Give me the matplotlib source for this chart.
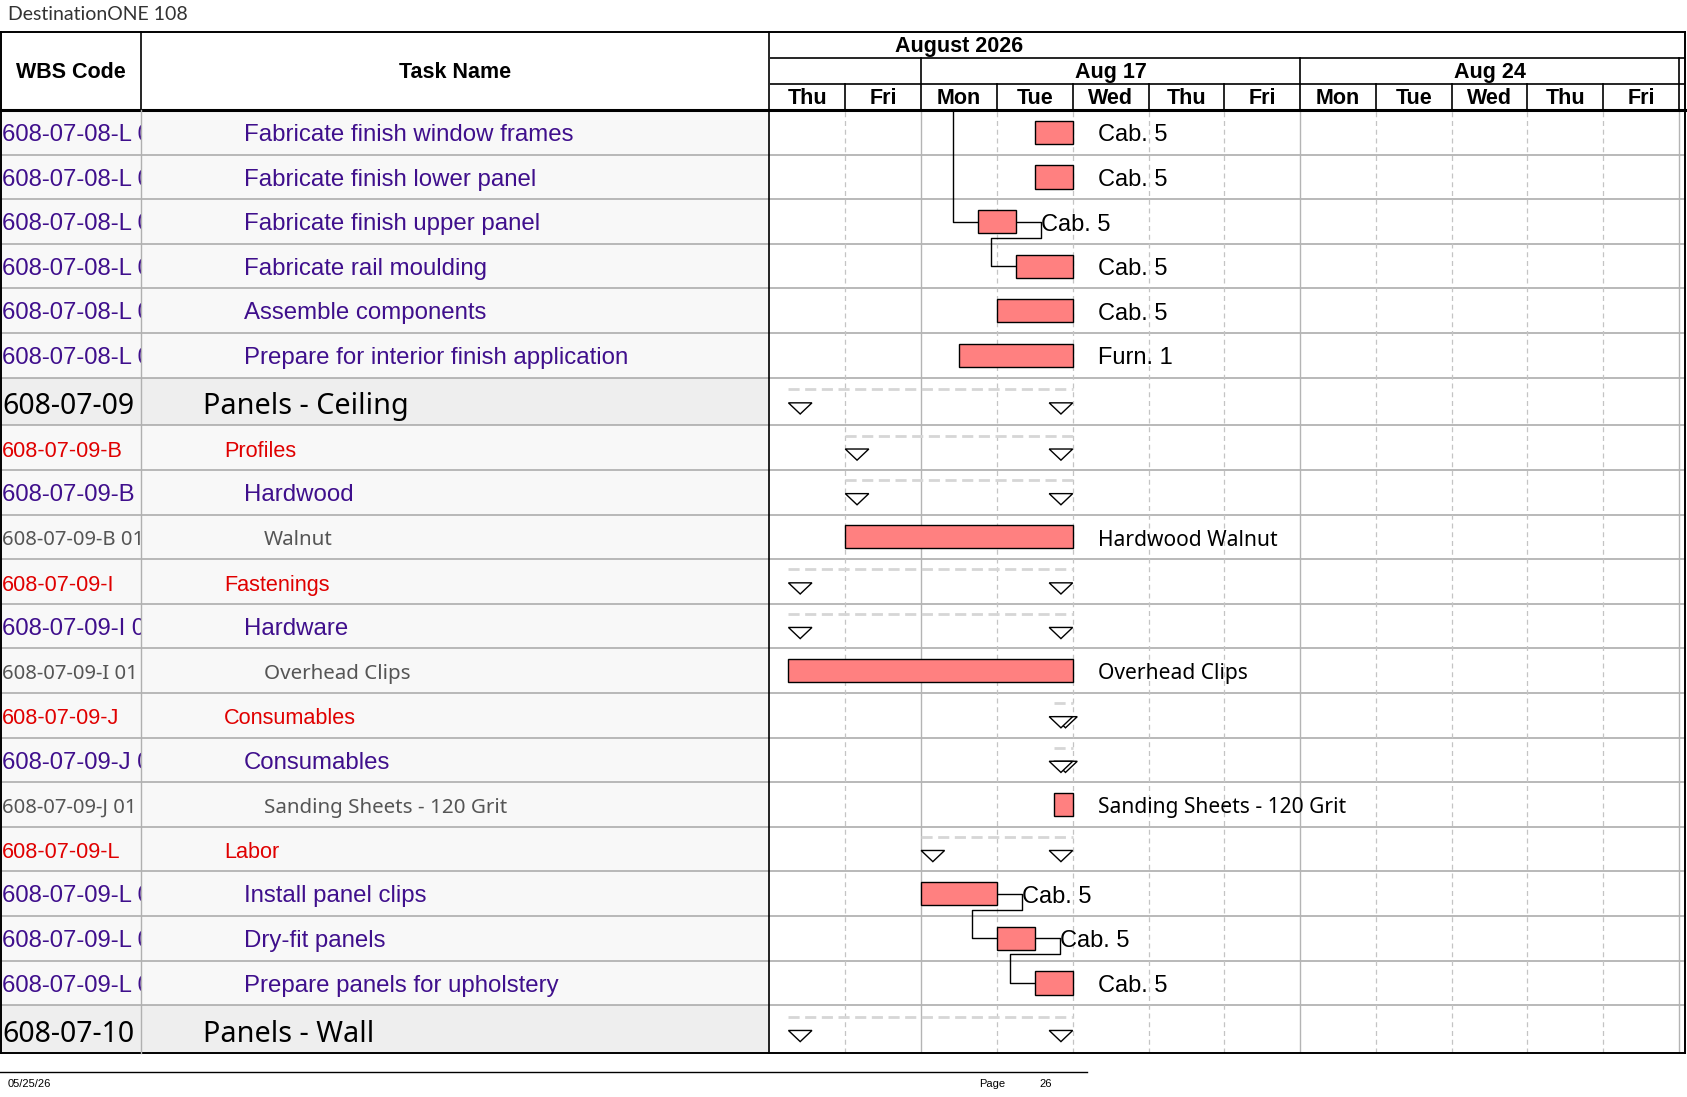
import numpy as np
import matplotlib
matplotlib.use("Agg")
import matplotlib.pyplot as plt
from matplotlib.patches import Polygon

W, H = 1687, 1097          # output size in pixels (dpi 100)

# ---- table data -------------------------------------------------------
wbs_codes = ["608-07-08-L 01", "608-07-08-L 02", "608-07-08-L 03",
             "608-07-08-L 04", "608-07-08-L 05", "608-07-08-L 06",
             "608-07-09", "608-07-09-B", "608-07-09-B 01", "608-07-09-B 01 01",
             "608-07-09-I", "608-07-09-I 01", "608-07-09-I 01 01",
             "608-07-09-J", "608-07-09-J 01", "608-07-09-J 01 01",
             "608-07-09-L", "608-07-09-L 01", "608-07-09-L 02", "608-07-09-L 03",
             "608-07-10"]
task_names = ["Fabricate finish window frames", "Fabricate finish lower panel",
              "Fabricate finish upper panel", "Fabricate rail moulding",
              "Assemble components", "Prepare for interior finish application",
              "Panels - Ceiling", "Profiles", "Hardwood", "Walnut",
              "Fastenings", "Hardware", "Overhead Clips",
              "Consumables", "Consumables", "Sanding Sheets - 120 Grit",
              "Labor", "Install panel clips", "Dry-fit panels",
              "Prepare panels for upholstery", "Panels - Wall"]
levels = [4, 4, 4, 4, 4, 4, 2, 3, 4, 5, 3, 4, 5, 3, 4, 5, 3, 4, 4, 4, 2]
is_summary = [False] * 6 + [True, True, True, False, True, True, False,
                            True, True, False, True, False, False, False, True]
# start / finish in working days from Thu Aug 13 (Thu=0, Fri=1, Mon 17=2 ...)
starts = [3.5, 3.5, 2.75, 3.25, 3.0, 2.5, 0.25, 1.0, 1.0, 1.0, 0.25, 0.25, 0.25,
          3.75, 3.75, 3.75, 2.0, 2.0, 3.0, 3.5, 0.25]
finishes = [4.0, 4.0, 3.25, 4.0, 4.0, 4.0, 4.0, 4.0, 4.0, 4.0, 4.0, 4.0, 4.0,
            4.0, 4.0, 4.0, 4.0, 3.0, 3.5, 4.0, 4.0]
resources = ["Cab. 5", "Cab. 5", "Cab. 5", "Cab. 5", "Cab. 5", "Furn. 1",
             "", "", "", "Hardwood Walnut", "", "", "Overhead Clips",
             "", "", "Sanding Sheets - 120 Grit", "", "Cab. 5", "Cab. 5", "Cab. 5", ""]
# finish-to-start links (predecessor row, successor row); None = from previous page
links = [(None, 2), (2, 3), (17, 18), (18, 19)]

day_names = ["Thu", "Fri", "Mon", "Tue", "Wed", "Thu", "Fri",
             "Mon", "Tue", "Wed", "Thu", "Fri"]
week_labels = ["", "Aug 17", "Aug 24"]
week_bounds = [0, 2, 7, 12]
month_label = "August 2026"

# ---- styles -----------------------------------------------------------
ARIAL = "Liberation Sans"
SEGOE = "Noto Sans"
styles = {
    2: dict(color="black", family=SEGOE, size=20.7, wsize=20.5, indent=203, dy=0.11),
    3: dict(color="#E00000", family=ARIAL, size=15.6, wsize=15.6, indent=224, dy=0.08),
    4: dict(color="#3F0F8C", family=ARIAL, size=17.3, wsize=17.2, indent=244, dy=0.06),
    5: dict(color="#555555", family=SEGOE, size=14.8, wsize=14.6, indent=264, dy=0.07),
}
BAR = "#FF8080"
XGAP = 0.33      # link / label offset in days
TRI_W, TRI_H = 0.31, 0.25

X_WBS, X_TASK, X_G, X_END = 0, 141, 769.5, 1685
Y_TOP, Y_HEAD, Y_BOT = 32, 110, 1053

fig = plt.figure(figsize=(W / 100, H / 100), dpi=100)
fig.patch.set_facecolor("white")


def px_axes(x0, y0, x1, y1):
    ax = fig.add_axes([x0 / W, 1 - y1 / H, (x1 - x0) / W, (y1 - y0) / H])
    ax.set_axis_off()
    return ax


heights = np.array([1.07 if lv == 2 else 1.0 for lv in levels])
edges = np.concatenate([[0], np.cumsum(heights)])
centers = (edges[:-1] + edges[1:]) / 2
total = edges[-1]

ax_wbs = px_axes(X_WBS, Y_HEAD, X_TASK, Y_BOT)
ax_task = px_axes(X_TASK, Y_HEAD, X_G, Y_BOT)
ax_g = px_axes(X_G, Y_HEAD, X_END, Y_BOT)
ax_wbs.set_xlim(X_WBS, X_TASK)
ax_task.set_xlim(X_TASK, X_G)
ax_g.set_xlim(0, (X_END - X_G) / 75.8)
for ax in (ax_wbs, ax_task, ax_g):
    ax.set_ylim(total, 0)

# row backgrounds and separators
for i, lv in enumerate(levels):
    bg = "#EEEEEE" if lv == 2 else "#F8F8F8"
    for ax in (ax_wbs, ax_task):
        ax.axhspan(edges[i], edges[i + 1], color=bg, lw=0, zorder=0)
for e in edges[1:-1]:
    for ax in (ax_wbs, ax_task, ax_g):
        ax.axhline(e, color="#A6A6A6", lw=1.1, zorder=1)

# table text
for i, (code, name, lv) in enumerate(zip(wbs_codes, task_names, levels)):
    st = styles[lv]
    y = centers[i] + st["dy"]
    ax_wbs.text(2, y, code, color=st["color"], family=st["family"],
                fontsize=st["wsize"], va="center", ha="left", clip_on=True)
    ax_task.text(st["indent"], y, name, color=st["color"],
                 family=st["family"], fontsize=st["size"], va="center",
                 ha="left", clip_on=True)

# gantt grid
for d in range(1, 13):
    if d in week_bounds:
        ax_g.axvline(d, color="#B4B4B4", lw=1, zorder=1)
    else:
        ax_g.axvline(d, color="#C4C4C4", lw=0.9, ls=(0, (4, 3)), zorder=1)

# bars
task_idx = [i for i in range(len(levels)) if not is_summary[i]]
ax_g.barh(centers[task_idx], np.array(finishes)[task_idx] - np.array(starts)[task_idx],
          left=np.array(starts)[task_idx], height=0.52, color=BAR,
          edgecolor="black", linewidth=1, zorder=4)

# summary rows: dashed line and two open triangles
for i in range(len(levels)):
    if not is_summary[i]:
        continue
    s, f, c = starts[i], finishes[i], centers[i]
    ax_g.plot([s, f], [c - 0.27, c - 0.27], color="#D6D6D6", lw=2,
              ls=(0, (4, 2)), zorder=2)
    for x0 in (s, f - TRI_W):
        tri = Polygon([[x0, c + 0.03], [x0 + TRI_W, c + 0.03],
                       [x0 + TRI_W / 2, c + 0.03 + TRI_H]],
                      closed=True, facecolor="white", edgecolor="black",
                      lw=1, zorder=5)
        ax_g.add_patch(tri)

# links
for p, s_row in links:
    xs = starts[s_row]
    yc = centers[s_row]
    if p is None:
        ax_g.plot([xs - XGAP, xs - XGAP, xs], [0, yc, yc], color="black",
                  lw=1, zorder=3)
    else:
        xe, yp = finishes[p], centers[p]
        ax_g.plot([xe, xe + XGAP, xe + XGAP, xs - XGAP, xs - XGAP, xs],
                  [yp, yp, yp + 0.36, yp + 0.36, yc, yc], color="black",
                  lw=1, zorder=3)

# resource labels
for i, lab in enumerate(resources):
    if lab:
        fam = SEGOE if levels[i] == 5 else ARIAL
        fs = 15.1 if levels[i] == 5 else 17
        ax_g.text(finishes[i] + XGAP, centers[i] + 0.07, lab, family=fam,
                  fontsize=fs, va="center", ha="left", color="black", zorder=6)

# ---- header -------------------------------------------------------------
ax_hg = px_axes(X_G, Y_TOP, X_END, Y_HEAD)
ax_hg.set_xlim(ax_g.get_xlim())
ax_hg.set_ylim(3, 0)
hk = dict(family=ARIAL, fontsize=15.5, fontweight="bold", ha="center", va="center")
ax_hg.text(2.5, 0.55, month_label, **hk)
for lab, a, b in zip(week_labels, week_bounds[:-1], week_bounds[1:]):
    ax_hg.text((a + b) / 2, 1.55, lab, **hk)
for d, name in enumerate(day_names):
    ax_hg.text(d + 0.5, 2.55, name, **hk)
ax_hg.axhline(1, color="black", lw=1.2)
ax_hg.axhline(2, color="black", lw=1.2)
for d in range(1, 13):
    y0 = 1 if d in week_bounds else 2
    ax_hg.plot([d, d], [y0, 3], color="black", lw=1.2)

ax_f = px_axes(0, 0, W, H)
ax_f.set_xlim(0, W)
ax_f.set_ylim(H, 0)
ax_f.text(X_TASK / 2, (Y_TOP + Y_HEAD) / 2 + 2, "WBS Code", **hk)
ax_f.text((X_TASK + X_G) / 2, (Y_TOP + Y_HEAD) / 2 + 2, "Task Name", **hk)

# frame lines
ax_f.plot([0, X_END], [Y_TOP, Y_TOP], color="black", lw=1.4)
ax_f.plot([0, X_END], [Y_HEAD, Y_HEAD], color="black", lw=2.2)
ax_f.plot([0, X_END], [Y_BOT, Y_BOT], color="black", lw=1.4)
ax_f.plot([1, 1], [Y_TOP, Y_BOT], color="black", lw=1.4)
ax_f.plot([X_END, X_END], [Y_TOP, Y_BOT], color="black", lw=1.4)
ax_f.plot([X_G, X_G], [Y_TOP, Y_BOT], color="black", lw=1.2)
ax_f.plot([X_TASK, X_TASK], [Y_TOP, Y_HEAD], color="black", lw=1.2)
ax_f.plot([X_TASK, X_TASK], [Y_HEAD, Y_BOT], color="#B0B0B0", lw=1)

# title and footer
ax_f.text(8, 15, "DestinationONE 108", family="Lato", fontsize=14,
          color="#333333", va="center", ha="left")
ax_f.plot([0, 1087], [1072, 1072], color="black", lw=1)
ax_f.text(8, 1084, "05/25/26", family=ARIAL, fontsize=8, va="center")
ax_f.text(979, 1084, "Page", family=ARIAL, fontsize=8, va="center")
ax_f.text(1039, 1084, "26", family=ARIAL, fontsize=8, va="center")

fig.savefig("out.png", dpi=100)
